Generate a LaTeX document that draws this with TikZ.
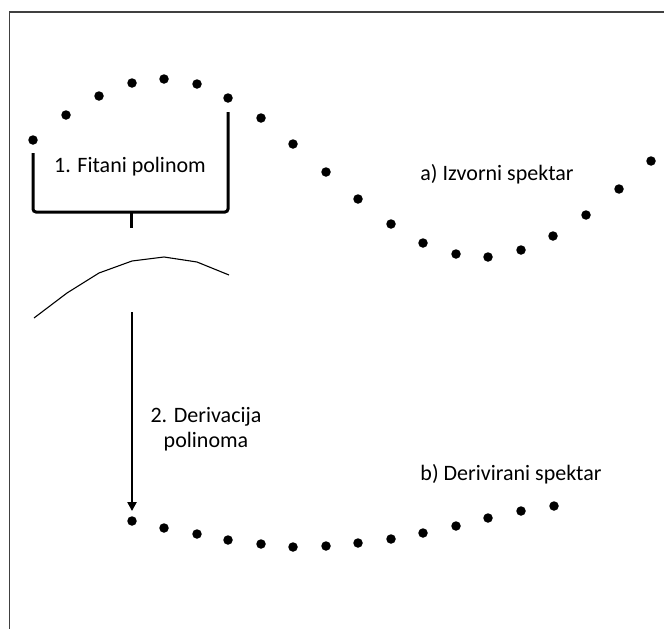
\documentclass[tikz,border=0pt]{standalone}
\usepackage{fontspec}
\setmainfont{Carlito}
\usetikzlibrary{arrows.meta}

\tikzset{
  spot/.style={circle, fill=black, inner sep=0pt, minimum size=9.5pt},
  lbl/.style={font=\fontsize{22}{25}\selectfont, anchor=base},
  frame/.style={draw=black!75, line width=1.2pt},
  bracket/.style={line width=3pt, rounded corners=3pt},
  fitline/.style={line width=1.1pt},
  arr/.style={line width=2.6pt, -{Triangle[length=9pt,width=9pt]}, shorten >=5pt},
}

\begin{document}
\begin{tikzpicture}[x=1pt, y=-1pt]

    \useasboundingbox (0,0) rectangle (664,629);
    \draw [frame] (9.5,629) -- (9.5,12) -- (664,12);

    % a) izvorni spektar
    \node [spot] (s1) at (33,140) {};
    \node [spot] (s2) at (66,115) {};
    \node [spot] (s3) at (99,96) {};
    \node [spot] (s4) at (132,83) {};
    \node [spot] (s5) at (164,79) {};
    \node [spot] (s6) at (197,84) {};
    \node [spot] (s7) at (228,98) {};
    \node [spot] (s8) at (261,118) {};
    \node [spot] (s9) at (293,144) {};
    \node [spot] (s10) at (326,172) {};
    \node [spot] (s11) at (358,199) {};
    \node [spot] (s12) at (391,224) {};
    \node [spot] (s13) at (423,243) {};
    \node [spot] (s14) at (456,254) {};
    \node [spot] (s15) at (488,257) {};
    \node [spot] (s16) at (521,250) {};
    \node [spot] (s17) at (553,236) {};
    \node [spot] (s18) at (586,215) {};
    \node [spot] (s19) at (619,189) {};
    \node [spot] (s20) at (651,161) {};

    % b) derivirani spektar
    \node [spot] (d1) at (132,521) {};
    \node [spot] (d2) at (164,528) {};
    \node [spot] (d3) at (197,534) {};
    \node [spot] (d4) at (228,540) {};
    \node [spot] (d5) at (261,544) {};
    \node [spot] (d6) at (293,547) {};
    \node [spot] (d7) at (326,546) {};
    \node [spot] (d8) at (358,543) {};
    \node [spot] (d9) at (391,539) {};
    \node [spot] (d10) at (423,533) {};
    \node [spot] (d11) at (456,526) {};
    \node [spot] (d12) at (488,518) {};
    \node [spot] (d13) at (521,511) {};
    \node [spot] (d14) at (554,506) {};

    \node [lbl] (fit) at (130,172) {1. Fitani polinom};
    \node [lbl] (izv) at (497,180) {a) Izvorni spektar};
    \node [lbl, anchor=center, align=center] (der) at (206,429) {2. Derivacija\\polinoma};
    \node [lbl] (drv) at (511,480) {b) Derivirani spektar};

    \coordinate (brk) at (131,212);
    \coordinate (stub) at (131,228);
    \coordinate (top) at (d1 |- 0,312);

    \draw [bracket] ([yshift=-13pt]s1.center) |- (brk) -| ([yshift=-14pt]s7.center);
    \draw [bracket] (brk) -- (stub);

    \draw [fitline] (34,318) -- (67,293) -- (99,273) -- (132,261) -- (164,257) -- (197,262) -- (229,275);

    \draw [arr] (top) -- (d1);

\end{tikzpicture}
\end{document}
